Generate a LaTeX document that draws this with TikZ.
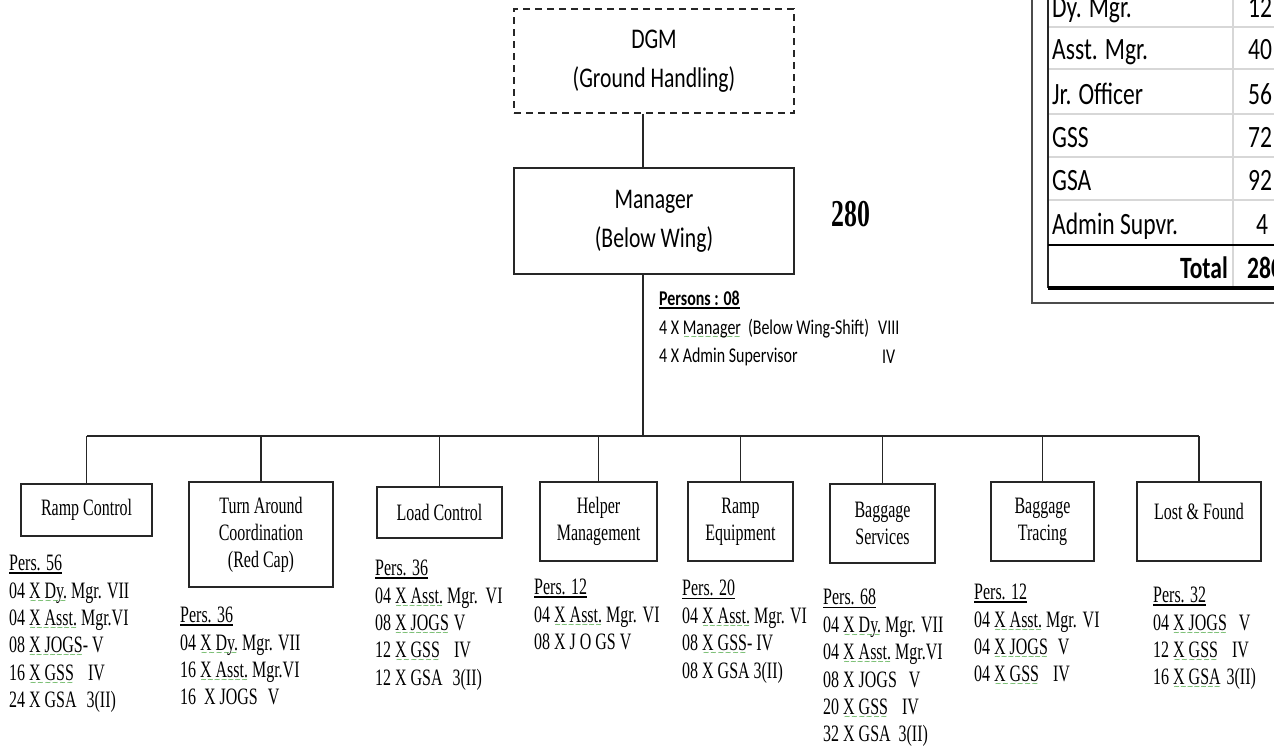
\documentclass[tikz,border=0pt]{standalone}
\usepackage{fontspec}
\setmainfont[FakeStretch=0.68]{Liberation Serif}
\newfontfamily\calfont[FakeStretch=0.76]{Carlito}
\newfontfamily\dvs{DejaVu Sans}
\definecolor{sqg}{RGB}{60,160,50}
\definecolor{tgray}{RGB}{215,215,215}
\newcommand\gw[1]{\leavevmode\setbox0=\hbox{#1}\rlap{\raisebox{-5pt}[0pt][0pt]{\color{sqg}\hbox to \wd0{\xleaders\hbox{\dvs\fontsize{8}{8}\selectfont\char"223C}\hfill}}}\box0\relax}
\newcommand\ul[1]{\leavevmode\setbox0=\hbox{#1}\rlap{\rule[-3pt]{\wd0}{1.3pt}}\box0\relax}
\newcommand\hs[1]{\hspace*{#1pt}}
\tikzset{
  conn/.style={line width=1.5pt, draw=black!85},
  orgbox/.style={draw=black!85, line width=1.8pt, align=center, inner sep=0pt,
    font=\fontsize{23.5}{27}\selectfont},
  topbox/.style={draw=black!85, line width=1.8pt, align=center, inner sep=0pt,
    minimum width=280pt, font=\calfont\fontsize{28.5}{39}\selectfont},
  plist/.style={anchor=north west, align=left, inner sep=0pt,
    font=\fontsize{23.5}{27.4}\selectfont},
  tcell/.style={anchor=base west, inner sep=0pt, font=\calfont\fontsize{31}{31}\selectfont},
  tnum/.style={anchor=base, inner sep=0pt, font=\calfont\fontsize{31}{31}\selectfont},
  pcal/.style={inner sep=0pt, font=\calfont\fontsize{21}{28.5}\selectfont},
}
\begin{document}
\begin{tikzpicture}[x=1pt, y=-1pt]
\useasboundingbox (0,0) rectangle (1274,753);

% top boxes
\node[topbox, dashed, dash pattern=on 7pt off 5pt, minimum height=104pt] (dgm) at (654,61) {DGM\\(Ground Handling)};
\node[topbox, minimum height=106pt] (mgr) at (654,221) {Manager\\(Below Wing)};
\node[font=\fontsize{38}{38}\selectfont\bfseries, inner sep=0pt] (tot) at (851,214) {280};

\coordinate (bus) at (643,436);
\draw[conn] (dgm.south -| bus) -- (mgr.north -| bus);
\draw[conn] (mgr.south -| bus) -- (bus);

% persons block
\node[pcal, anchor=north west, align=left] (pers) at (659,291)
  {\textbf{\ul{Persons : 08}}\\4 X \gw{Manager}\hs{7}(Below Wing-Shift)\\4 X Admin Supervisor};
\node[pcal, anchor=west] (g8) at (878,328) {VIII};
\node[pcal, anchor=west] (g4) at (882,357) {IV};

% department boxes
\node[orgbox, minimum width=131pt, minimum height=52pt] (rc) at (86.5,510) {Ramp Control};
\node[orgbox, minimum width=144pt, minimum height=105pt] (ta) at (261,534.5) {Turn Around\\Coordination\\(Red Cap)};
\node[orgbox, minimum width=125pt, minimum height=51pt] (lc) at (439.5,512.5) {Load Control};
\node[orgbox, minimum width=117pt, minimum height=79pt] (hm) at (598.5,521.5) {Helper\\Management};
\node[orgbox, minimum width=105pt, minimum height=79pt] (re) at (740.5,521.5) {Ramp\\Equipment};
\node[orgbox, minimum width=105pt, minimum height=79pt] (bs) at (882.5,523.5) {Baggage\\Services};
\node[orgbox, minimum width=103pt, minimum height=79pt] (bt) at (1042.5,521.5) {Baggage\\Tracing};
\node[orgbox, minimum width=124pt, minimum height=79pt] (lf) at (1199,521.5) {Lost \& Found\\[-6pt]\mbox{}};

\draw[conn] (rc.north |- bus) -- (lf.north |- bus);
\foreach \n in {rc,ta,lc,hm,re,bs,bt,lf}{
  \draw[conn] (\n.north) -- (\n.north |- bus);
}

% personnel lists
\node[plist] (lrc) at (9,555) {\ul{Pers. 56}\\04 \gw{X Dy.} Mgr. VII\\04 \gw{X Asst.} Mgr.VI\\08 \gw{X JOGS}- V\\16 \gw{X GSS}\hs{14}IV\\24 X GSA\hs{10}3(II)};
\node[plist] (lta) at (180,607) {\ul{Pers. 36}\\04 \gw{X Dy.} Mgr. VII\\16 \gw{X Asst.} Mgr.VI\\16\hs{8}X JOGS\hs{10}V};
\node[plist] (llc) at (375,560) {\ul{Pers. 36}\\04 \gw{X Asst.} Mgr.\hs{8}VI\\08 \gw{X JOGS}\hs{5}V\\12 \gw{X GSS}\hs{14}IV\\12 X GSA\hs{10}3(II)};
\node[plist] (lhm) at (534,579) {\ul{Pers. 12}\\04 \gw{X Asst.} Mgr.\hs{6}VI\\08 X J O GS V};
\node[plist] (lre) at (682,580) {\ul{Pers. 20}\\04 \gw{X Asst.} Mgr. VI\\08 \gw{X GSS}- IV\\08 X GSA 3(II)};
\node[plist] (lbs) at (823,589) {\ul{Pers. 68}\\04 \gw{X Dy.} Mgr. VII\\04 \gw{X Asst.} Mgr.VI\\08 X JOGS\hs{12}V\\20 \gw{X GSS}\hs{14}IV\\32 X GSA\hs{8}3(II)};
\node[plist] (lbt) at (974,584) {\ul{Pers. 12}\\04 \gw{X Asst.} Mgr.\hs{6}VI\\04 \gw{X JOGS}\hs{10}V\\04 \gw{X GSS}\hs{14}IV};
\node[plist] (llf) at (1153,587) {\ul{Pers. 32}\\04 \gw{X JOGS}\hs{12}V\\12 \gw{X GSS}\hs{14}IV\\16 \gw{X GSA}\hs{6}3(II)};

% summary table (cut off at right/top)
\draw[line width=1.8pt, draw=black!70] (1032,-20) rectangle (1320,303);
\foreach \yy in {27,69,114,157,200}{
  \draw[line width=1.8pt, draw=tgray] (1048,\yy) -- (1320,\yy);
}
\draw[line width=1.8pt, draw=tgray] (1233,-20) -- (1233,288);
\draw[line width=2pt, draw=black!85] (1048,-20) -- (1048,288);
\draw[line width=2pt, draw=black] (1048,245) -- (1320,245);
\draw[line width=3.2pt, draw=black] (1048,288) -- (1320,288);

\node[tcell] (t1) at (1052,17) {Dy. Mgr.};
\node[tcell] (t2) at (1052,59) {Asst. Mgr.};
\node[tcell] (t3) at (1052,104) {Jr. Officer};
\node[tcell] (t4) at (1052,147) {GSS};
\node[tcell] (t5) at (1052,190) {GSA};
\node[tcell] (t6) at (1052,234) {Admin Supvr.};
\node[tcell, anchor=base east, font=\calfont\fontsize{31}{31}\selectfont\bfseries] (t7) at (1228,278) {Total};
\node[tnum] (n1) at (1260,17) {12};
\node[tnum] (n2) at (1260,59) {40};
\node[tnum] (n3) at (1260,104) {56};
\node[tnum] (n4) at (1260,147) {72};
\node[tnum] (n5) at (1260,190) {92};
\node[tnum] (n6) at (1262,234) {4};
\node[tcell, font=\calfont\fontsize{31}{31}\selectfont\bfseries] (n7) at (1247,278) {280};
\end{tikzpicture}
\end{document}
